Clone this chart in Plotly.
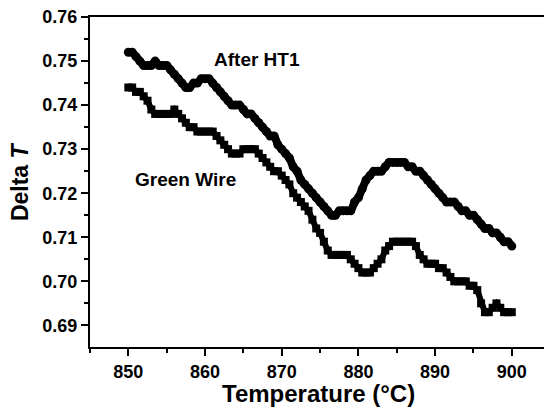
import plotly.graph_objects as go

temperature = [
    850.0, 850.5, 851.0, 851.5, 852.0, 852.5, 853.0, 853.5, 854.0, 854.5,
    855.0, 855.5, 856.0, 856.5, 857.0, 857.5, 858.0, 858.5, 859.0, 859.5,
    860.0, 860.5, 861.0, 861.5, 862.0, 862.5, 863.0, 863.5, 864.0, 864.5,
    865.0, 865.5, 866.0, 866.5, 867.0, 867.5, 868.0, 868.5, 869.0, 869.5,
    870.0, 870.5, 871.0, 871.5, 872.0, 872.5, 873.0, 873.5, 874.0, 874.5,
    875.0, 875.5, 876.0, 876.5, 877.0, 877.5, 878.0, 878.5, 879.0, 879.5,
    880.0, 880.5, 881.0, 881.5, 882.0, 882.5, 883.0, 883.5, 884.0, 884.5,
    885.0, 885.5, 886.0, 886.5, 887.0, 887.5, 888.0, 888.5, 889.0, 889.5,
    890.0, 890.5, 891.0, 891.5, 892.0, 892.5, 893.0, 893.5, 894.0, 894.5,
    895.0, 895.5, 896.0, 896.5, 897.0, 897.5, 898.0, 898.5, 899.0, 899.5,
    900.0,
]

after_ht1 = [
    0.752, 0.752, 0.751, 0.750, 0.749, 0.749, 0.749, 0.750, 0.749, 0.749,
    0.749, 0.748, 0.747, 0.746, 0.745, 0.744, 0.744, 0.745, 0.745, 0.746,
    0.746, 0.746, 0.745, 0.744, 0.743, 0.742, 0.741, 0.740, 0.740, 0.740,
    0.739, 0.738, 0.738, 0.737, 0.736, 0.735, 0.734, 0.733, 0.733, 0.731,
    0.730, 0.729, 0.728, 0.726, 0.725, 0.723, 0.722, 0.721, 0.720, 0.719,
    0.718, 0.717, 0.716, 0.715, 0.715, 0.716, 0.716, 0.716, 0.716, 0.718,
    0.719, 0.721, 0.723, 0.724, 0.725, 0.725, 0.725, 0.726, 0.727, 0.727,
    0.727, 0.727, 0.727, 0.726, 0.726, 0.725, 0.725, 0.724, 0.723, 0.722,
    0.721, 0.720, 0.719, 0.718, 0.718, 0.718, 0.717, 0.716, 0.716, 0.715,
    0.715, 0.714, 0.713, 0.712, 0.712, 0.711, 0.711, 0.710, 0.709, 0.709,
    0.708,
]

green_wire = [
    0.744, 0.744, 0.743, 0.743, 0.742, 0.741, 0.739, 0.738, 0.738, 0.738,
    0.738, 0.738, 0.739, 0.738, 0.737, 0.736, 0.735, 0.735, 0.734, 0.734,
    0.734, 0.734, 0.734, 0.733, 0.732, 0.731, 0.730, 0.729, 0.729, 0.729,
    0.730, 0.730, 0.730, 0.730, 0.729, 0.728, 0.727, 0.726, 0.725, 0.725,
    0.724, 0.723, 0.722, 0.720, 0.719, 0.718, 0.717, 0.716, 0.714, 0.712,
    0.711, 0.709, 0.707, 0.706, 0.706, 0.706, 0.706, 0.706, 0.705, 0.704,
    0.703, 0.702, 0.702, 0.702, 0.703, 0.704, 0.705, 0.707, 0.708, 0.709,
    0.709, 0.709, 0.709, 0.709, 0.709, 0.708, 0.706, 0.705, 0.704, 0.704,
    0.704, 0.703, 0.703, 0.702, 0.701, 0.700, 0.700, 0.700, 0.700, 0.699,
    0.699, 0.698, 0.695, 0.693, 0.693, 0.694, 0.695, 0.694, 0.693, 0.693,
    0.693,
]

x_ticks = [850, 860, 870, 880, 890, 900]
x_tick_labels = ["850", "860", "870", "880", "890", "900"]
y_ticks = [0.69, 0.70, 0.71, 0.72, 0.73, 0.74, 0.75, 0.76]
y_tick_labels = ["0.69", "0.70", "0.71", "0.72", "0.73", "0.74", "0.75", "0.76"]

FONT = "Liberation Sans, Arial, sans-serif"

fig = go.Figure()
fig.add_trace(go.Scatter(
    x=temperature, y=green_wire, mode="lines+markers", name="Green Wire",
    line=dict(color="black", width=6, shape="linear"),
    marker=dict(symbol="square", size=8, color="black", line=dict(width=0)),
))
fig.add_trace(go.Scatter(
    x=temperature, y=after_ht1, mode="lines+markers", name="After HT1",
    line=dict(color="black", width=8, shape="spline", smoothing=0.6),
    marker=dict(symbol="circle", size=9, color="black", line=dict(width=0)),
))

fig.add_annotation(x=866.8, y=0.7504, text="<b>After HT1</b>", showarrow=False,
                   font=dict(family=FONT, size=19, color="black"))
fig.add_annotation(x=857.4, y=0.7232, text="<b>Green Wire</b>", showarrow=False,
                   font=dict(family=FONT, size=19, color="black"))

fig.add_annotation(xref="paper", yref="paper", x=0.503, y=-0.142,
                   text="<b>Temperature (°C)</b>", showarrow=False,
                   xanchor="center", yanchor="middle",
                   font=dict(family=FONT, size=24, color="black"))
fig.add_annotation(xref="paper", yref="paper", x=-0.154, y=0.5,
                   text="<b>Delta <i>T</i></b>", showarrow=False, textangle=-90,
                   xanchor="center", yanchor="middle",
                   font=dict(family=FONT, size=23, color="black"))

fig.update_layout(
    width=544, height=410,
    margin=dict(l=90, r=0, t=17, b=63, autoexpand=False),
    paper_bgcolor="white", plot_bgcolor="white",
    showlegend=False,
    font=dict(family=FONT, color="black"),
)
fig.update_xaxes(
    range=[845, 904.2], tickvals=x_ticks,
    ticktext=["<b>%s</b>" % t for t in x_tick_labels],
    ticks="outside", ticklen=7, tickwidth=2,
    tickcolor="black", showline=True, linewidth=2, linecolor="black", mirror=True,
    showgrid=False, zeroline=False,
    tickfont=dict(family=FONT, size=18, color="black"),
    minor=dict(dtick=5, tick0=845, ticks="outside", ticklen=4, tickwidth=2, tickcolor="black"),
)
fig.update_yaxes(
    range=[0.6851, 0.76], tickvals=y_ticks,
    ticktext=["<b>%s</b>" % t for t in y_tick_labels],
    ticks="outside", ticklen=7, tickwidth=2, tickcolor="black", showline=True,
    linewidth=2, linecolor="black", mirror=False, showgrid=False, zeroline=False,
    tickfont=dict(family=FONT, size=18, color="black"),
    minor=dict(dtick=0.005, tick0=0.685, ticks="outside", ticklen=4, tickwidth=2, tickcolor="black"),
)

fig.write_html("out.html")
